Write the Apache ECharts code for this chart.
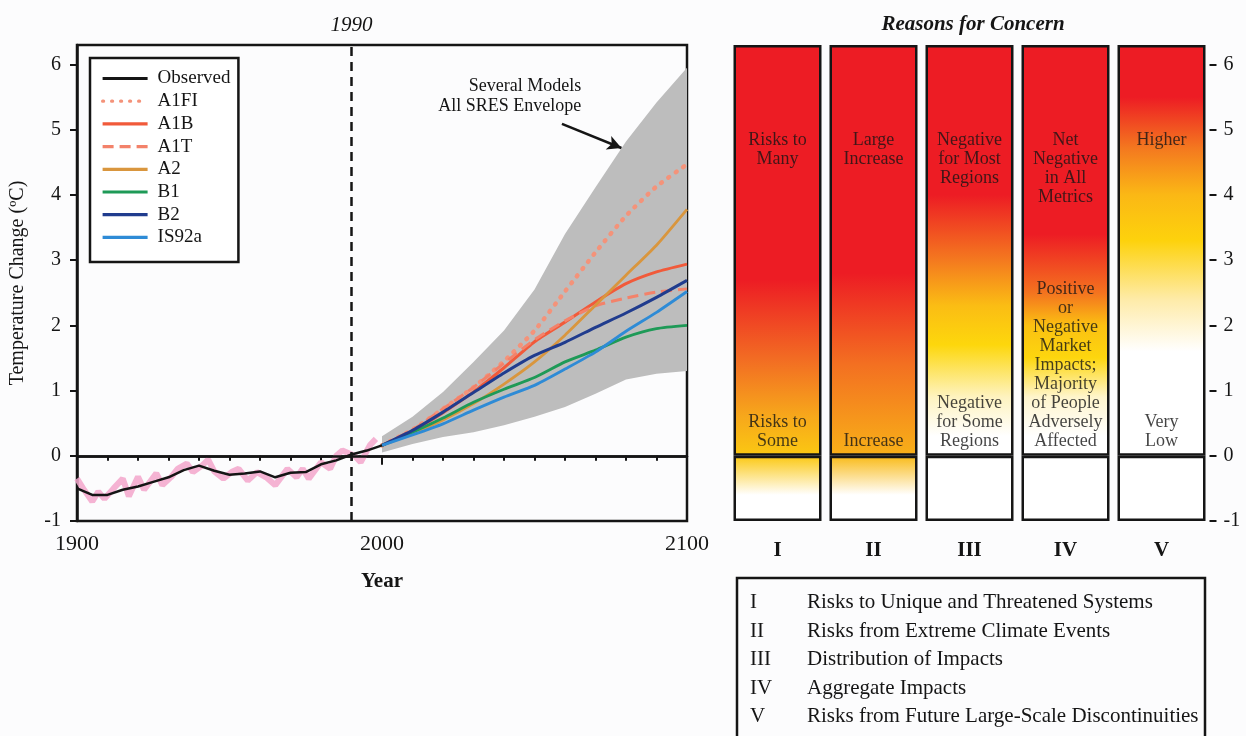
<!DOCTYPE html>
<html>
<head>
<meta charset="utf-8">
<script src="https://cdn.jsdelivr.net/npm/echarts@6/dist/echarts.min.js"></script>
<style>
html, body { margin: 0; padding: 0; background: #fcfcfd; }
#main { width: 1246px; height: 736px; }
</style>
</head>
<body>
<div id="main"></div>
<script>
var serif = '"Liberation Serif", "DejaVu Serif", serif';
var ink = '#151515';

// scenario projections, 2000-2100
var scenYears = [2000, 2010, 2020, 2030, 2040, 2050, 2060, 2070, 2080, 2090, 2100];
var a1fi  = [0.16, 0.40, 0.72, 1.05, 1.45, 1.92, 2.52, 3.12, 3.68, 4.13, 4.47];
var a1b   = [0.16, 0.38, 0.66, 0.98, 1.35, 1.75, 2.05, 2.36, 2.64, 2.82, 2.94];
var a1t   = [0.16, 0.40, 0.72, 1.05, 1.42, 1.78, 2.07, 2.30, 2.42, 2.51, 2.56];
var a2    = [0.16, 0.34, 0.55, 0.80, 1.10, 1.44, 1.85, 2.31, 2.77, 3.23, 3.78];
var b1    = [0.16, 0.36, 0.58, 0.82, 1.02, 1.20, 1.44, 1.62, 1.82, 1.95, 2.00];
var b2    = [0.16, 0.39, 0.67, 0.97, 1.27, 1.54, 1.74, 1.97, 2.19, 2.43, 2.69];
var is92a = [0.16, 0.32, 0.49, 0.70, 0.90, 1.08, 1.33, 1.59, 1.91, 2.20, 2.52];

// several models, all SRES envelope
var envLower = [0.05, 0.18, 0.29, 0.36, 0.47, 0.60, 0.75, 0.95, 1.17, 1.26, 1.30];
var envUpper = [0.30, 0.60, 0.98, 1.44, 1.92, 2.55, 3.40, 4.12, 4.82, 5.42, 5.95];

// observed (smoothed)
var obsYears = [1900, 1905, 1910, 1915, 1920, 1925, 1930, 1935, 1940, 1945, 1950,
                1955, 1960, 1965, 1970, 1975, 1980, 1985, 1990, 1995, 2000];
var obsMean  = [-0.50, -0.60, -0.60, -0.52, -0.47, -0.40, -0.33, -0.22, -0.15, -0.23, -0.29,
                -0.27, -0.24, -0.33, -0.26, -0.25, -0.13, -0.07, 0.02, 0.08, 0.16];

// observed annual variability
var annYears  = [1900, 1902, 1905, 1907, 1909, 1912, 1915, 1917, 1920, 1922, 1926, 1928, 1931,
                 1933, 1936, 1938, 1941, 1943, 1945, 1948, 1951, 1953, 1956, 1959, 1962, 1965,
                 1969, 1972, 1974, 1976, 1980, 1983, 1985, 1987, 1991, 1993, 1996, 1998];
var annValues = [-0.35, -0.50, -0.70, -0.55, -0.66, -0.50, -0.35, -0.62, -0.32, -0.52, -0.27, -0.45, -0.32,
                 -0.20, -0.12, -0.25, -0.15, -0.06, -0.24, -0.35, -0.24, -0.20, -0.38, -0.25, -0.33, -0.45,
                 -0.20, -0.33, -0.20, -0.35, -0.10, -0.20, 0.00, 0.08, 0.00, -0.10, 0.16, 0.26];

var yTicks = [-1, 0, 1, 2, 3, 4, 5, 6];

// reasons for concern
var concernIds = ['I', 'II', 'III', 'IV', 'V'];
var concernNames = [
  'Risks to Unique and Threatened Systems',
  'Risks from Extreme Climate Events',
  'Distribution of Impacts',
  'Aggregate Impacts',
  'Risks from Future Large-Scale Discontinuities'
];
var highNotes = ['Risks to\nMany', 'Large\nIncrease', 'Negative\nfor Most\nRegions',
                 'Net\nNegative\nin All\nMetrics', 'Higher'];
var lowNotes = ['Risks to\nSome', 'Increase', 'Negative\nfor Some\nRegions',
                'Positive\nor\nNegative\nMarket\nImpacts;\nMajority\nof People\nAdversely\nAffected',
                'Very\nLow'];
var barTop = [6.3, 6.3, 6.3, 6.3, 6.3];
var barBottom = [-1, -1, -1, -1, -1];

var RED = '#ED1C24';
// colour ramps, [temperature, colour]
var upperRamps = [
  [[6.3, RED], [2.7, RED], [1.5, '#F26B23'], [0.6, '#F7A81B'], [0, '#FBC812']],
  [[6.3, RED], [2.8, RED], [1.4, '#F37021'], [0, '#F8B018']],
  [[6.3, RED], [4.0, RED], [3.0, '#F4791F'], [2.3, '#FBBD14'], [1.7, '#FDD70C'], [0.9, '#FEF3C0'], [0.3, '#FFFFFF'], [0, '#FFFFFF']],
  [[6.3, RED], [3.4, RED], [2.5, '#F4731F'], [2.0, '#FBC012'], [1.5, '#FDD60E'], [0.9, '#FFF5CC'], [0.3, '#FFFFFF'], [0, '#FFFFFF']],
  [[6.3, RED], [5.5, RED], [4.7, '#F47A1F'], [4.0, '#FBB815'], [3.3, '#FDD20C'], [2.4, '#FEEBA8'], [1.6, '#FFFFFF'], [0, '#FFFFFF']]
];
var lowerRamps = [
  [[0, '#FBC812'], [-0.6, '#FFFFFF'], [-1, '#FFFFFF']],
  [[0, '#F9BA17'], [-0.6, '#FFFFFF'], [-1, '#FFFFFF']],
  [[0, '#FFFFFF'], [-1, '#FFFFFF']],
  [[0, '#FFFFFF'], [-1, '#FFFFFF']],
  [[0, '#FFFFFF'], [-1, '#FFFFFF']]
];

function pairs(xs, ys) {
  return xs.map(function (x, i) { return [x, ys[i]]; });
}

function ramp(stops, hi, lo) {
  return {
    type: 'linear', x: 0, y: 0, x2: 0, y2: 1,
    colorStops: stops.map(function (s) {
      return { offset: (hi - s[0]) / (hi - lo), color: s[1] };
    })
  };
}

function scenario(name, values, color, dash, width, cap) {
  return {
    name: name,
    type: 'line',
    data: pairs(scenYears, values),
    symbol: 'none',
    smooth: 0.2,
    z: 3,
    itemStyle: { color: color },
    lineStyle: { color: color, width: width, type: dash, cap: cap || 'butt' }
  };
}

var axisFont = { fontFamily: serif, color: ink };

var option = {
  backgroundColor: '#fcfcfd',
  animation: false,
  title: {
    text: 'Reasons for Concern',
    left: 968,
    top: 9,
    textAlign: 'center',
    textStyle: { fontFamily: serif, fontStyle: 'italic', fontWeight: 'bold', fontSize: 21, color: ink }
  },
  legend: {
    data: ['Observed', 'A1FI', 'A1B', 'A1T', 'A2', 'B1', 'B2', 'IS92a'],
    orient: 'vertical',
    left: 90,
    top: 58,
    padding: [11, 8, 15, 11],
    itemWidth: 45,
    itemHeight: 14,
    itemGap: 3.7,
    backgroundColor: '#ffffff',
    borderColor: ink,
    borderWidth: 2.5,
    selectedMode: false,
    itemStyle: { opacity: 0 },
    lineStyle: { width: 3.2 },
    textStyle: { fontFamily: serif, fontSize: 19, color: ink, padding: [0, 0, 0, 5] }
  },
  grid: [
    { left: 77, right: 559, top: 45, bottom: 215, show: true, borderColor: ink, borderWidth: 2.5,
      backgroundColor: 'rgba(0,0,0,0)', outerBoundsMode: 'none' },
    { left: 729.5, right: 36.5, top: 45, bottom: 215, outerBoundsMode: 'none' }
  ],
  xAxis: [
    {
      gridIndex: 0, type: 'value', min: 1900, max: 2100, interval: 100,
      name: 'Year', nameLocation: 'middle', nameGap: 50,
      nameTextStyle: { fontFamily: serif, fontWeight: 'bold', fontSize: 21, color: ink },
      axisLine: { show: true, lineStyle: { color: ink, width: 2.5 } },
      axisTick: { show: true, length: 9, lineStyle: { color: ink, width: 2 } },
      minorTick: { show: true, splitNumber: 10, length: 5, lineStyle: { color: ink, width: 2 } },
      axisLabel: Object.assign({ fontSize: 22, margin: 12, formatter: function (v) { return String(v); } }, axisFont),
      splitLine: { show: false },
      minorSplitLine: { show: false }
    },
    {
      gridIndex: 1, type: 'category', data: concernIds,
      axisLine: { show: false },
      axisTick: { show: false },
      axisLabel: Object.assign({ fontSize: 21, fontWeight: 'bold', margin: 19 }, axisFont),
      splitLine: { show: false }
    }
  ],
  yAxis: [
    {
      gridIndex: 0, type: 'value', min: -1, max: 6.3,
      name: 'Temperature Change (ºC)', nameLocation: 'middle', nameGap: 49,
      nameTextStyle: { fontFamily: serif, fontSize: 20, color: ink },
      axisLine: { show: true, lineStyle: { color: ink, width: 2.5 } },
      axisTick: { show: true, length: 7, lineStyle: { color: ink, width: 2 }, customValues: yTicks },
      axisLabel: Object.assign({ fontSize: 20, margin: 16, customValues: yTicks }, axisFont),
      splitLine: { show: false }
    },
    {
      gridIndex: 1, type: 'value', min: -1, max: 6.3, position: 'right',
      axisLine: { show: false },
      axisTick: { show: true, length: 7, lineStyle: { color: ink, width: 2 }, customValues: yTicks },
      axisLabel: Object.assign({ fontSize: 20, margin: 14, customValues: yTicks }, axisFont),
      splitLine: { show: false }
    }
  ],
  series: [
    {
      name: 'envelope', type: 'custom', silent: true, z: 1, clip: true,
      data: scenYears.map(function (y, i) { return [y, envLower[i], envUpper[i]]; }),
      encode: { x: 0, y: [1, 2] },
      renderItem: function (params, api) {
        if (params.dataIndex !== 0) return null;
        var pts = [];
        for (var i = 0; i < scenYears.length; i++) pts.push(api.coord([scenYears[i], envUpper[i]]));
        for (var j = scenYears.length - 1; j >= 0; j--) pts.push(api.coord([scenYears[j], envLower[j]]));
        return { type: 'polygon', shape: { points: pts }, style: { fill: '#BDBDBD' } };
      }
    },
    {
      name: 'annual', type: 'line', data: pairs(annYears, annValues),
      symbol: 'none', silent: true, z: 2,
      lineStyle: { color: '#F3A6CB', width: 6, opacity: 0.85 }
    },
    scenario('A1FI', a1fi, '#F4937A', [1, 8], 4.5, 'round'),
    scenario('A1B', a1b, '#F15A3A', 'solid', 3),
    scenario('A1T', a1t, '#F3826A', [11, 6], 3),
    scenario('A2', a2, '#D9963E', 'solid', 2.8),
    scenario('B1', b1, '#1E9A57', 'solid', 2.8),
    scenario('B2', b2, '#203C8E', 'solid', 3),
    scenario('IS92a', is92a, '#2E8BD6', 'solid', 2.8),
    {
      name: 'Observed', type: 'line', data: pairs(obsYears, obsMean),
      symbol: 'none', z: 4,
      itemStyle: { color: ink },
      lineStyle: { color: ink, width: 2.5 },
      markLine: {
        silent: true,
        symbol: ['none', 'none'],
        label: { show: false },
        data: [
          { yAxis: 0, lineStyle: { color: ink, width: 2.5, type: 'solid' } },
          {
            xAxis: 1990,
            lineStyle: { color: ink, width: 2.5, type: [9, 6] },
            label: { show: true, position: 'end', formatter: '1990', distance: 9,
                     fontFamily: serif, fontStyle: 'italic', fontSize: 21, color: ink }
          },
          [
            { coord: [2059, 5.09], symbol: 'none', lineStyle: { color: ink, width: 2.5, type: 'solid' } },
            { coord: [2078.5, 4.72], symbol: 'arrow', symbolSize: [11, 14] }
          ]
        ]
      },
      markPoint: {
        silent: true,
        data: [{
          coord: [2065.5, 5.52], symbol: 'circle', symbolSize: 1,
          itemStyle: { color: 'rgba(0,0,0,0)' },
          label: { show: true, position: 'left', distance: 0, align: 'right',
                   formatter: 'Several Models\nAll SRES Envelope',
                   fontFamily: serif, fontSize: 18, lineHeight: 20, color: ink }
        }]
      }
    },
    {
      name: 'riskHigh', type: 'bar', xAxisIndex: 1, yAxisIndex: 1,
      barWidth: 88, barGap: '-100%', silent: true, z: 2,
      itemStyle: { borderColor: ink, borderWidth: 2.5 },
      data: barTop.map(function (v, i) {
        return { value: v, itemStyle: { color: ramp(upperRamps[i], v, 0) } };
      })
    },
    {
      name: 'riskLow', type: 'bar', xAxisIndex: 1, yAxisIndex: 1,
      barWidth: 88, barGap: '-100%', silent: true, z: 2,
      itemStyle: { borderColor: ink, borderWidth: 2.5 },
      data: barBottom.map(function (v, i) {
        return { value: v, itemStyle: { color: ramp(lowerRamps[i], 0, v) } };
      })
    },
    {
      name: 'highNotes', type: 'scatter', xAxisIndex: 1, yAxisIndex: 1,
      symbolSize: 1, silent: true, z: 5,
      itemStyle: { color: 'rgba(0,0,0,0)' },
      label: { show: true, position: 'bottom', distance: 0, align: 'center',
               fontFamily: serif, fontSize: 18, lineHeight: 19, color: ink },
      data: highNotes.map(function (t, i) {
        return { value: [i, 5.0], label: { formatter: t } };
      })
    },
    {
      name: 'lowNotes', type: 'scatter', xAxisIndex: 1, yAxisIndex: 1,
      symbolSize: 1, silent: true, z: 5,
      itemStyle: { color: 'rgba(0,0,0,0)' },
      label: { show: true, position: 'top', distance: 0, align: 'center',
               fontFamily: serif, fontSize: 18, lineHeight: 19, color: ink },
      data: lowNotes.map(function (t, i) {
        return { value: [i, 0.07], label: { formatter: t } };
      })
    }
  ],
  graphic: [
    {
      type: 'rect', silent: true,
      shape: { x: 737, y: 578, width: 468, height: 175 },
      style: { fill: 'rgba(0,0,0,0)', stroke: ink, lineWidth: 2.5 }
    }
  ].concat(concernIds.map(function (id, i) {
    return {
      type: 'group', silent: true, left: 750, top: 592 + i * 28.5,
      children: [
        { type: 'text', left: 0, top: 0, style: { text: id, fontFamily: serif, fontSize: 21, fill: ink } },
        { type: 'text', left: 57, top: 0, style: { text: concernNames[i], fontFamily: serif, fontSize: 21, fill: ink } }
      ]
    };
  }))
};

var chart = echarts.init(document.getElementById('main'));
chart.setOption(option);
</script>
</body>
</html>
